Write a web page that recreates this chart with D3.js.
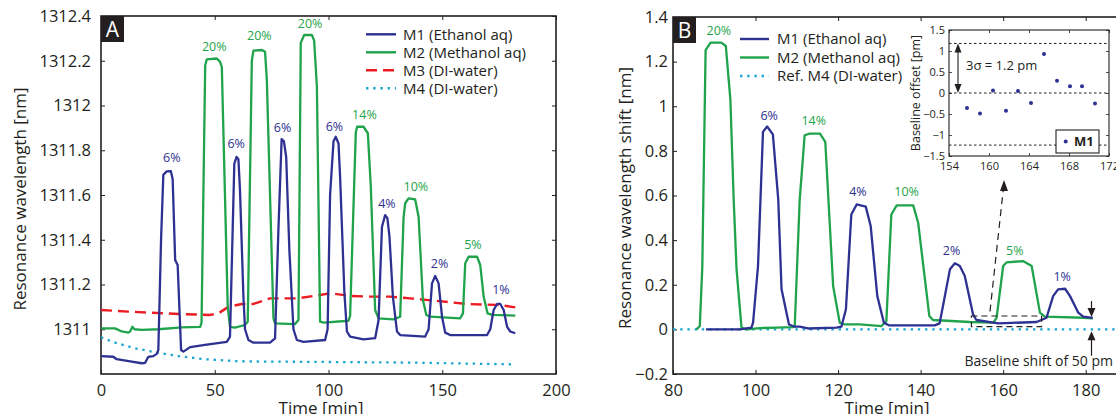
<!DOCTYPE html>
<html>
<head>
<meta charset="utf-8">
<script src="https://cdn.jsdelivr.net/npm/d3@7"></script>
<style>
  body { margin: 0; background: #fff; }
  svg { display: block; }
  text { font-family: "Open Sans", sans-serif; fill: #231f20; }
</style>
</head>
<body>
<svg id="chart" width="1116" height="414"></svg>
<script>
// ---------- data ----------
// Panel A: raw resonance wavelength [nm] vs time [min]
const aM1 = [[0,1310.88],[5.4,1310.877],[6.9,1310.866],[13.5,1310.855],[17.9,1310.848],[19.4,1310.85],[20.8,1310.877],[23,1310.88],[24.5,1310.89],[25.2,1310.907],[26.4,1311.4],[27.4,1311.69],[28.9,1311.706],[30.7,1311.707],[31.5,1311.67],[32.6,1311.31],[33.7,1311.287],[35.2,1310.907],[36.2,1310.9],[37.7,1310.91],[39.2,1310.92],[45.7,1310.93],[55.3,1310.944],[56.7,1310.967],[58.6,1311.74],[59.6,1311.77],[60.4,1311.76],[61.1,1311.62],[62.6,1311.146],[63.3,1311.0],[64.8,1310.952],[67,1310.94],[74.3,1310.94],[76.5,1310.959],[78,1311.45],[79.4,1311.85],[80.4,1311.84],[81.4,1311.77],[82.8,1311.354],[84.6,1311.0],[86.1,1310.952],[89,1310.944],[98.5,1310.952],[99.6,1311.0],[100.7,1311.6],[102.2,1311.84],[103.2,1311.86],[104.4,1311.83],[105.1,1311.68],[107,1311.16],[108.1,1310.99],[109.5,1310.967],[115.4,1310.955],[120.5,1310.96],[122,1311.04],[123.5,1311.458],[124.9,1311.51],[125.9,1311.496],[126.8,1311.414],[128.3,1311.146],[130.1,1310.99],[131.5,1310.974],[142.5,1310.967],[144,1311.0],[145.5,1311.205],[146.9,1311.238],[148.4,1311.205],[149.9,1311.056],[151.3,1310.985],[153.5,1310.974],[169.7,1310.974],[171.1,1311.0],[172.6,1311.086],[174.1,1311.113],[175.5,1311.113],[177,1311.086],[178.5,1311.011],[179.9,1310.99],[182.1,1310.982]];
const aM2 = [[0,1311.004],[6.2,1311.004],[9.1,1310.99],[12,1310.985],[12.8,1310.99],[13.8,1311.011],[14.7,1311.0],[17.9,1310.997],[25.2,1311.0],[35.5,1311.008],[43.6,1311.011],[44.2,1311.03],[45.8,1312.18],[46.5,1312.206],[50.9,1312.21],[52.3,1312.196],[53.1,1312.173],[55.7,1311.1],[56.7,1311.011],[58.9,1311.007],[63.3,1311.019],[64.5,1311.034],[66.3,1312.2],[67,1312.245],[70.7,1312.248],[72.1,1312.24],[72.9,1312.114],[75.8,1311.05],[76.5,1311.026],[85.3,1311.023],[86.8,1311.041],[87.8,1312.28],[89.3,1312.315],[92.7,1312.315],[93.7,1312.29],[94.9,1312.084],[96.3,1311.034],[97.8,1311.03],[108.8,1311.038],[109.5,1311.06],[112,1311.88],[112.6,1311.905],[115.4,1311.905],[117.3,1311.876],[118.6,1311.637],[120.5,1311.086],[122,1311.049],[128.6,1311.044],[131.5,1311.056],[133,1311.5],[133.7,1311.563],[135.2,1311.585],[138.1,1311.58],[139.6,1311.503],[141.5,1311.131],[143,1311.064],[144.7,1311.056],[157.9,1311.049],[159.1,1311.071],[160.1,1311.295],[161.6,1311.324],[165.3,1311.324],[166.7,1311.287],[168.2,1311.146],[169.9,1311.071],[171.9,1311.064],[182.1,1311.061]];
const aM3 = [[0,1311.086],[12,1311.079],[34,1311.068],[47.9,1311.064],[51.6,1311.071],[56,1311.1],[61.9,1311.113],[67,1311.113],[74.3,1311.138],[86.1,1311.138],[96.3,1311.153],[100.7,1311.161],[109.5,1311.149],[118.3,1311.146],[127.1,1311.146],[135.9,1311.138],[146.2,1311.128],[160.9,1311.113],[175.5,1311.108],[182.1,1311.098]];
const aM4 = [[0,1310.964],[6.2,1310.94],[15,1310.915],[23.8,1310.897],[34,1310.88],[45.7,1310.866],[58.9,1310.858],[65.5,1310.856],[94.9,1310.854],[135.9,1310.851],[182.1,1310.843]];

// Panel B: wavelength shift [nm] vs time [min]
const bM1 = [[88,0.0],[96.2,0.0],[99,0.008],[99.4,0.03],[100.6,0.284],[101.8,0.885],[102.8,0.909],[104.2,0.874],[105.5,0.583],[106.3,0.18],[108.1,0.022],[109.5,0.012],[110.7,0.012],[112.7,0.004],[119.6,0.008],[120.8,0.012],[121.9,0.09],[123.2,0.515],[124.5,0.56],[126.7,0.55],[127.9,0.463],[129.5,0.149],[131.1,0.03],[132.3,0.018],[143.4,0.018],[144.6,0.027],[145.4,0.104],[147.1,0.269],[148.3,0.296],[149.5,0.284],[150.7,0.239],[152.7,0.067],[153.5,0.042],[158.8,0.027],[168.1,0.033],[170.5,0.052],[172.1,0.149],[173.3,0.179],[175,0.182],[176.2,0.149],[178.2,0.075],[179.4,0.057],[181.7,0.052]];
const bM2 = [[85.7,0],[86.5,0.015],[87.1,0.28],[87.9,1.252],[89.1,1.285],[91.7,1.285],[92.8,1.27],[93.9,1.031],[94.7,0.583],[95.4,0.269],[96.6,0.008],[97.8,0],[101,0.006],[105.1,0.008],[109.1,0.01],[109.5,0.015],[110.7,0.583],[111.9,0.87],[113.1,0.877],[115.6,0.877],[116.9,0.84],[118.8,0.194],[120.4,0.03],[121.6,0.022],[125.3,0.022],[130.5,0.015],[131.7,0.037],[132.9,0.515],[134.2,0.556],[138.2,0.556],[139.4,0.478],[142.1,0.06],[143,0.042],[151.9,0.033],[157.6,0.03],[158.4,0.052],[160,0.284],[160.8,0.3],[164.8,0.306],[166.9,0.284],[168.9,0.075],[170.1,0.057],[179.4,0.052],[181.7,0.049]];
const bM4 = [[80,0],[190,0]];

// Inset: baseline offset [pm] of M1
const insetT = [157.8,159.1,160.4,161.7,162.9,164.2,165.5,166.8,168.1,169.3,170.6];
const insetV = [-0.36,-0.49,0.06,-0.42,0.05,-0.24,0.93,0.29,0.16,0.16,-0.25];
const insetRefLines = [1.18, 0, -1.24];

// Concentration labels: [time, value, text, series]
const aLabels = [[31.1,1311.768,"6%","m1"],[49.8,1312.263,"20%","m2"],[59.4,1311.831,"6%","m1"],[69.6,1312.311,"20%","m2"],[79.8,1311.901,"6%","m1"],[91.9,1312.364,"20%","m2"],[102.6,1311.904,"6%","m1"],[115.8,1311.958,"14%","m2"],[125.7,1311.563,"4%","m1"],[138.4,1311.637,"10%","m2"],[148.8,1311.295,"2%","m1"],[163.5,1311.38,"5%","m2"],[175.8,1311.175,"1%","m1"]];
const bLabels = [[91.1,1.34,"20%","m2"],[103.3,0.959,"6%","m1"],[114.1,0.934,"14%","m2"],[124.8,0.619,"4%","m1"],[136.6,0.619,"10%","m2"],[147.5,0.351,"2%","m1"],[162.8,0.351,"5%","m2"],[174.3,0.236,"1%","m1"]];

// Ticks
const aXTicks = [0, 50, 100, 150, 200];
const aYTicks = [1311, 1311.2, 1311.4, 1311.6, 1311.8, 1312, 1312.2, 1312.4];
const bXTicks = [80, 100, 120, 140, 160, 180];
const bYTicks = [-0.2, 0, 0.2, 0.4, 0.6, 0.8, 1, 1.2, 1.4];
const insetXTicks = [156, 160, 164, 168, 172];
const insetXLabels = ["154", "160", "164", "168", "172"];
const insetYTicks = [-1.5, -1, -0.5, 0, 0.5, 1, 1.5];

const aLegend = [["M1 (Ethanol aq)","m1"],["M2 (Methanol aq)","m2"],["M3 (DI-water)","m3"],["M4 (DI-water)","m4"]];
const bLegend = [["M1 (Ethanol aq)","m1"],["M2 (Methanol aq)","m2"],["Ref. M4 (DI-water)","m4"]];

// ---------- styling ----------
const COL = { m1: "#2e3192", m2: "#1fa34b", m3: "#ec1c24", m4: "#1aa6d0", ink: "#231f20" };
const DASH = { m1: null, m2: null, m3: "11,6", m4: "2.4,4.8" };
const fmt = d3.format("~g");

const svg = d3.select("#chart");

// scales
const xA = d3.scaleLinear().domain([0, 200]).range([101, 556]);
const yA = d3.scaleLinear().domain([1310.8, 1312.4]).range([374, 16]);
const xB = d3.scaleLinear().domain([80, 190]).range([673, 1127]);
const yB = d3.scaleLinear().domain([-0.2, 1.4]).range([374, 17]);
const xI = d3.scaleLinear().domain([156, 172]).range([949, 1109]);
const yI = d3.scaleLinear().domain([-1.5, 1.5]).range([156, 30]);

// draws inward ticks on all four sides + frame
function frame(g, x, y, o) {
    const [x0, x1] = x.range(), [y0, y1] = y.range();
    const style = sel => {
        sel.select(".domain").remove();
        sel.selectAll("line").attr("stroke", COL.ink).attr("stroke-width", o.tickW || 1);
        sel.selectAll("text").attr("font-family", null).attr("font-size", o.font).attr("fill", COL.ink);
        sel.attr("font-family", null).attr("font-size", null);
    };
    g.append("g").attr("transform", `translate(0,${y0})`)
        .call(d3.axisBottom(x).tickValues(o.xTicks).tickSize(-o.tick).tickPadding(o.xPad).tickFormat(o.xFmt || fmt)).call(style);
    g.append("g").attr("transform", `translate(0,${y1})`)
        .call(d3.axisTop(x).tickValues(o.xTicks).tickSize(-o.tick).tickFormat("")).call(style);
    g.append("g").attr("transform", `translate(${x0},0)`)
        .call(d3.axisLeft(y).tickValues(o.yTicks).tickSize(-o.tick).tickPadding(o.yPad).tickFormat(fmt)).call(style);
    g.append("g").attr("transform", `translate(${x1},0)`)
        .call(d3.axisRight(y).tickValues(o.yTicks).tickSize(-o.tick).tickFormat("")).call(style);
    g.append("rect")
        .attr("x", x0).attr("y", y1).attr("width", x1 - x0).attr("height", y0 - y1)
        .attr("fill", "none").attr("stroke", COL.ink).attr("stroke-width", o.frameW || 1.6);
}

function series(g, x, y, data, key) {
    g.append("path")
        .datum(data)
        .attr("fill", "none")
        .attr("stroke", COL[key])
        .attr("stroke-width", key === "m3" ? 2.4 : 2.3)
        .attr("stroke-linejoin", "round")
        .attr("stroke-dasharray", DASH[key])
        .attr("d", d3.line().x(d => x(d[0])).y(d => y(d[1])));
}

function labels(g, x, y, data) {
    g.selectAll(null).data(data).join("text")
        .attr("x", d => x(d[0])).attr("y", d => y(d[1])).attr("dy", "0.35em")
        .attr("text-anchor", "middle").attr("font-size", 12.5)
        .style("fill", d => COL[d[3]])
        .text(d => d[2]);
}

function legend(g, rows, x0, x1, tx, ys, font) {
    rows.forEach(([name, key], i) => {
        g.append("line").attr("x1", x0).attr("x2", x1).attr("y1", ys[i]).attr("y2", ys[i])
            .attr("stroke", COL[key]).attr("stroke-width", 2.4).attr("stroke-dasharray", DASH[key]);
        g.append("text").attr("x", tx).attr("y", ys[i]).attr("dy", "0.35em")
            .attr("font-size", font).text(name);
    });
}

function panelTag(g, x, y, letter) {
    g.append("rect").attr("x", x).attr("y", y).attr("width", 23).attr("height", 26).attr("fill", "#231f20");
    g.append("text").attr("x", x + 11.5).attr("y", y + 21).attr("text-anchor", "middle")
        .attr("font-size", 21).style("fill", "#fff").text(letter);
}

function arrowHead(g, x, y, dir, w = 8, h = 10) {
    // dir: -1 points up, +1 points down
    g.append("path")
        .attr("d", `M${x},${y} L${x - w / 2},${y - dir * h} L${x + w / 2},${y - dir * h} Z`)
        .attr("fill", COL.ink);
}

// ---------- Panel A ----------
const gA = svg.append("g");
frame(gA, xA, yA, { xTicks: aXTicks, yTicks: aYTicks, tick: 4, xPad: 10, yPad: 10, font: 16.5 });
series(gA, xA, yA, aM4, "m4");
series(gA, xA, yA, aM3, "m3");
series(gA, xA, yA, aM2, "m2");
series(gA, xA, yA, aM1, "m1");
labels(gA, xA, yA, aLabels);
legend(gA, aLegend, 366, 396, 403, [34.3, 52.3, 70.3, 88.3], 15);
panelTag(gA, 101, 16, "A");
gA.append("text").attr("transform", "translate(26,199) rotate(-90)").attr("text-anchor", "middle")
    .attr("font-size", 17).text("Resonance wavelength [nm]");
gA.append("text").attr("x", 321).attr("y", 414).attr("text-anchor", "middle")
    .attr("font-size", 17).text("Time [min]");

// ---------- Panel B ----------
const gB = svg.append("g");
frame(gB, xB, yB, { xTicks: bXTicks, yTicks: bYTicks, tick: 4, xPad: 10, yPad: 5, font: 16.5 });
series(gB, xB, yB, bM4, "m4");
series(gB, xB, yB, bM2, "m2");
series(gB, xB, yB, bM1, "m1");
labels(gB, xB, yB, bLabels);
legend(gB, bLegend, 740, 769, 777, [39, 57.5, 76], 15);
panelTag(gB, 673, 17, "B");
gB.append("text").attr("transform", "translate(631,198) rotate(-90)").attr("text-anchor", "middle")
    .attr("font-size", 17).text("Resonance wavelength shift [nm]");
gB.append("text").attr("x", 887).attr("y", 414).attr("text-anchor", "middle")
    .attr("font-size", 17).text("Time [min]");

// zoom box around baseline and pointer to inset
gB.append("rect")
    .attr("x", xB(152.3)).attr("y", yB(0.06))
    .attr("width", xB(169.3) - xB(152.3)).attr("height", yB(0.012) - yB(0.06))
    .attr("fill", "none").attr("stroke", COL.ink).attr("stroke-width", 1.2).attr("stroke-dasharray", "6,4");
gB.append("line")
    .attr("x1", xB(156.8)).attr("y1", yB(0.08)).attr("x2", xB(160.1)).attr("y2", yB(0.64))
    .attr("stroke", COL.ink).attr("stroke-width", 1.2).attr("stroke-dasharray", "7,5");
arrowHead(gB, xB(160.2), yB(0.67), -1, 8, 11);

// baseline shift markers
const bx = xB(181.4);
gB.append("line").attr("x1", bx).attr("x2", bx).attr("y1", yB(0.127)).attr("y2", yB(0.075))
    .attr("stroke", COL.ink).attr("stroke-width", 1.2);
arrowHead(gB, bx, yB(0.055), 1, 8, 9);
gB.append("line").attr("x1", bx).attr("x2", bx).attr("y1", yB(-0.118)).attr("y2", yB(-0.03))
    .attr("stroke", COL.ink).attr("stroke-width", 1.2);
arrowHead(gB, bx, yB(-0.008), -1, 8, 9);
gB.append("text").attr("x", 1113).attr("y", 366).attr("text-anchor", "end")
    .attr("font-size", 14).text("Baseline shift of 50 pm");

// ---------- Inset ----------
const gI = svg.append("g");
gI.append("rect").attr("x", 949).attr("y", 30).attr("width", 160).attr("height", 126).attr("fill", "#fff");
gI.selectAll("line.ref").data(insetRefLines).join("line").attr("class", "ref")
    .attr("x1", xI.range()[0]).attr("x2", xI.range()[1])
    .attr("y1", d => yI(d)).attr("y2", d => yI(d))
    .attr("stroke", COL.ink).attr("stroke-width", 1).attr("stroke-dasharray", "2.5,2.5");
frame(gI, xI, yI, {
    xTicks: insetXTicks, yTicks: insetYTicks, tick: 3, xPad: 6, yPad: 4, font: 11,
    xFmt: (d, i) => insetXLabels[i], frameW: 1.1, tickW: 0.8
});
gI.selectAll("circle.pt").data(insetT.map((t, i) => [t, insetV[i]])).join("circle").attr("class", "pt")
    .attr("cx", d => xI(d[0])).attr("cy", d => yI(d[1])).attr("r", 2)
    .attr("fill", COL.m1);
// 3 sigma double arrow
const sx = xI(156.9);
gI.append("line").attr("x1", sx).attr("x2", sx).attr("y1", yI(1.18) + 8).attr("y2", yI(0) - 8)
    .attr("stroke", COL.ink).attr("stroke-width", 1.1);
arrowHead(gI, sx, yI(1.18), -1, 7, 9);
arrowHead(gI, sx, yI(0), 1, 7, 9);
gI.append("text").attr("x", 966).attr("y", 65).attr("dy", "0.35em").attr("font-size", 13)
    .text("3σ = 1.2 pm");
gI.append("text").attr("transform", "translate(920,93) rotate(-90)").attr("text-anchor", "middle")
    .attr("font-size", 12.5).text("Baseline offset [pm]");
// inset legend
gI.append("rect").attr("x", 1056).attr("y", 130).attr("width", 43).attr("height", 23)
    .attr("fill", "#fff").attr("stroke", COL.ink).attr("stroke-width", 1.1);
gI.append("circle").attr("cx", 1065.7).attr("cy", 141.5).attr("r", 2).attr("fill", COL.m1);
gI.append("text").attr("x", 1074).attr("y", 141.5).attr("dy", "0.35em")
    .attr("font-size", 13).attr("font-weight", "bold").text("M1");
</script>
</body>
</html>
